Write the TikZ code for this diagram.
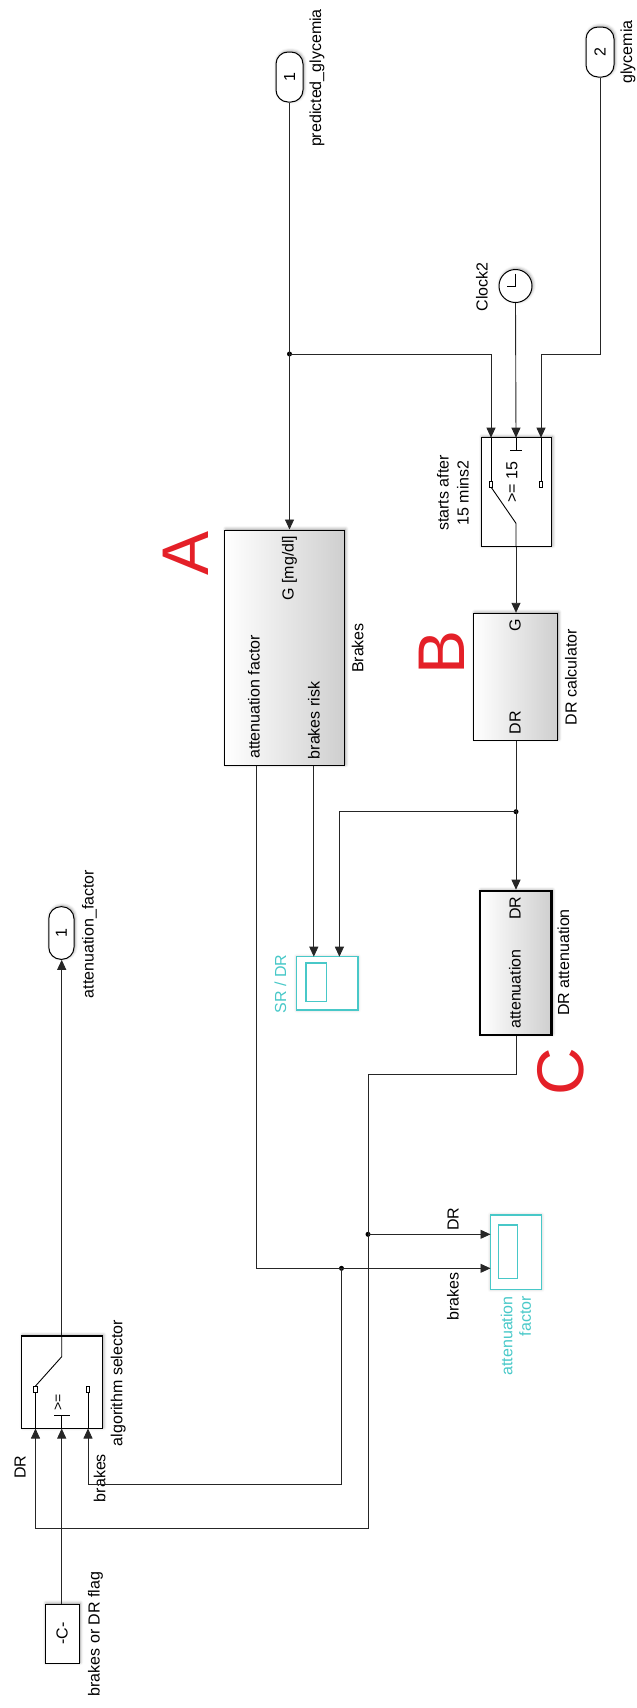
\documentclass[tikz,border=0pt]{standalone}
\usepackage{fontspec}
\setmainfont{Liberation Sans}
\usetikzlibrary{arrows.meta,shadows.blur}
\definecolor{scopecyan}{RGB}{72,200,200}
\definecolor{markred}{RGB}{228,32,40}
\tikzset{
  wire/.style={draw=black!85, line width=0.9pt},
  arr/.style={wire, -{Triangle[length=10pt,width=9pt]}},
  junc/.style={circle, fill=black, inner sep=0pt, minimum size=5pt},
  txt/.style={inner sep=0pt, font=\fontsize{16pt}{19pt}\selectfont},
  lbl/.style={txt, rotate=90},
  bigmark/.style={rotate=90, inner sep=0pt, text=markred, font=\fontsize{66pt}{70pt}\selectfont},
  glow/.style={blur shadow={shadow xshift=1pt, shadow yshift=1pt, shadow blur radius=3pt, shadow opacity=40}},
  plainblock/.style={draw=black, line width=1pt, fill=white, inner sep=0pt, glow},
  shadeblock/.style={draw=black, line width=1pt, left color=white, middle color=black!4, right color=black!19, inner sep=0pt, glow},
  port/.style={plainblock, rounded corners=12pt},
  scopebox/.style={draw=scopecyan, line width=1.3pt, fill=white, inner sep=0pt, blur shadow={shadow xshift=0pt, shadow yshift=0pt, shadow blur radius=3pt, shadow opacity=25}},
  scopein/.style={draw=scopecyan, line width=1.1pt, inner sep=0pt},
  icon/.style={draw=black, line width=0.9pt},
  pinsq/.style={draw=black, line width=0.8pt, fill=white, inner sep=0pt, minimum width=3.5pt, minimum height=6pt}
}
\begin{document}
\begin{tikzpicture}[x=1pt,y=-1pt]
\useasboundingbox (0,0) rectangle (637,1708);

% ---------- blocks ----------
\node[port, minimum width=27pt, minimum height=50pt] (p1) at (289.5,77) {};
\node[lbl] at (p1) {1};
\node[lbl] (p1lab) at (317,78) {predicted\_glycemia};

\node[port, minimum width=28pt, minimum height=50pt] (p2) at (600,52) {};
\node[lbl] at (p2) {2};
\node[lbl] (p2lab) at (628,52) {glycemia};

\node[plainblock, circle, minimum size=33pt] (clock) at (515.5,286) {};
\draw[icon] (515.5,273.5) -- (515.5,286) -- (506.5,286);
\node[lbl] (clocklab) at (482,287) {Clock2};

\node[plainblock, minimum width=70.6pt, minimum height=109pt] (sw1) at (516.3,492.2) {};
\node[lbl, align=center, font=\fontsize{16pt}{20pt}\selectfont] (sw1lab) at (453,493) {starts after\\15 mins2};

\node[shadeblock, minimum width=119.9pt, minimum height=235.7pt] (brakes) at (284.75,647.85) {};
\node[lbl] (bG) at (289.4,568) {G [mg/dl]};
\node[lbl] (bAF) at (254,697) {attenuation factor};
\node[lbl] (bBR) at (313.8,720.5) {brakes risk};
\node[lbl] (brakeslab) at (357.7,648) {Brakes};
\node[bigmark] (markA) at (186,553) {A};

\node[shadeblock, minimum width=84.1pt, minimum height=126.7pt] (drcalc) at (515.65,676.65) {};
\node[lbl] (dcG) at (515,625) {G};
\node[lbl] (dcDR) at (515,722.5) {DR};
\node[lbl] (drcalclab) at (571,677) {DR calculator};
\node[bigmark] (markB) at (442,652.5) {B};

\node[shadeblock, line width=2.6pt, minimum width=71.6pt, minimum height=144pt] (datt) at (515.8,963) {};
\node[lbl] (daDR) at (515,908) {DR};
\node[lbl] (daAT) at (515,989) {attenuation};
\node[lbl] (dattlab) at (563.3,962.5) {DR attenuation};
\node[bigmark] (markC) at (561,1072) {C};

\node[scopebox, minimum width=61.3pt, minimum height=53.3pt] (sc1) at (327.35,983.35) {};
\node[scopein, minimum width=20.7pt, minimum height=38.7pt] (sc1in) at (316.35,982.35) {};
\node[lbl, text=scopecyan] (sc1lab) at (280.5,984) {SR / DR};

\node[scopebox, minimum width=51.2pt, minimum height=74.3pt] (sc2) at (516.1,1252.15) {};
\node[scopein, minimum width=19pt, minimum height=53.3pt] (sc2in) at (507.8,1251.65) {};
\node[lbl, text=scopecyan, align=right, anchor=east, font=\fontsize{16pt}{18.5pt}\selectfont] (sc2lab) at (516,1296) {attenuation\\factor};
\node[lbl] (sigDR) at (453,1219) {DR};
\node[lbl] (sigBR) at (453,1296.5) {brakes};

\node[port, minimum width=25.2pt, minimum height=52.6pt] (pout) at (61.4,933) {};
\node[lbl] at (pout) {1};
\node[lbl] (poutlab) at (89.4,934) {attenuation\_factor};

\node[plainblock, line width=1.2pt, minimum width=80.8pt, minimum height=92.5pt] (sel) at (62.1,1382.25) {};
\node[lbl] (sellab) at (118.3,1383) {algorithm selector};
\node[lbl] (selDR) at (20,1467) {DR};
\node[lbl] (selBR) at (99.6,1478) {brakes};

\node[plainblock, minimum width=34.3pt, minimum height=59.3pt] (const) at (62.15,1633.65) {};
\node[lbl] at (const) {-C-};
\node[lbl] (constlab) at (95.5,1634) {brakes or DR flag};

% ---------- pins ----------
\coordinate (sw1a) at (491,437.7);
\coordinate (sw1b) at (516,437.7);
\coordinate (sw1c) at (541,437.7);
\coordinate (bo1) at (256,765.7);
\coordinate (bo2) at (313.8,765.7);
\coordinate (sc1a) at (313.8,956.7);
\coordinate (sc1b) at (339.4,956.7);
\coordinate (sc2a) at (490.5,1234.3);
\coordinate (sc2b) at (490.5,1268.3);
\coordinate (selL) at (35.5,1428.5);
\coordinate (selR) at (88,1428.5);
\coordinate (drcorner) at (368,1528.3);

% ---------- switch icons ----------
\draw[icon] (sw1a) -- (491,481);
\draw[icon] (sw1c) -- (541,481);
\node[pinsq] at (491,484) {};
\node[pinsq] at (541,484) {};
\draw[icon] (491,487) -- (516,523.3) -- (sw1.south -| sw1b);
\draw[icon] (sw1b) -- (516,450);
\draw[icon] (510,450) -- (522,450);
\node[lbl] (sw1cond) at (512,482) {>= 15};

\draw[icon] (selL) -- (35.5,1392);
\draw[icon] (selR) -- (88,1392);
\node[pinsq] at (35.5,1389) {};
\node[pinsq] at (88,1389) {};
\draw[icon] (35.5,1386) -- (61.7,1356.7) -- (sel.north -| 61.7,0);
\draw[icon] (sel.south -| 61.7,0) -- (61.7,1415);
\draw[icon] (54,1415) -- (70,1415);
\node[lbl, font=\fontsize{14pt}{16pt}\selectfont] (selcond) at (58.5,1402) {>=};

% ---------- connectors ----------
\node[junc] (j1) at (289.5,354) {};
\node[junc] (j2) at (516,811.7) {};
\node[junc] (j3) at (341.5,1268.3) {};
\node[junc] (j4) at (368,1234.3) {};

\draw[arr] (p1.south) -- (p1.south |- brakes.north);
\draw[arr] (j1.center) -| (sw1a);
\draw[arr] (clock.south) -- (sw1b);
\draw[arr] (p2.south) -- ++(0,277) -| (sw1c);
\draw[arr] (sw1.south -| sw1b) -- (sw1b |- drcalc.north);
\draw[wire] (drcalc.south -| j2) -- (j2.center);
\draw[arr] (j2.center) -- (j2.center |- datt.north);
\draw[arr] (j2.center) -| (sc1b);
\draw[arr] (bo2) -- (sc1a);
\draw[arr] (bo1) |- (sc2b);
\draw[arr] (j3.center) -- ++(0,215.7) -| (selR);
\draw[arr] (datt.south -| j2) -- ++(0,38.3) -| (drcorner) -| (selL);
\draw[arr] (j4.center) -- (sc2a);
\draw[arr] (const.north -| 61.7,0) -- (selL -| 61.7,0);
\draw[arr] (sel.north -| 61.7,0) -- (pout.south -| 61.7,0);
\end{tikzpicture}
\end{document}
